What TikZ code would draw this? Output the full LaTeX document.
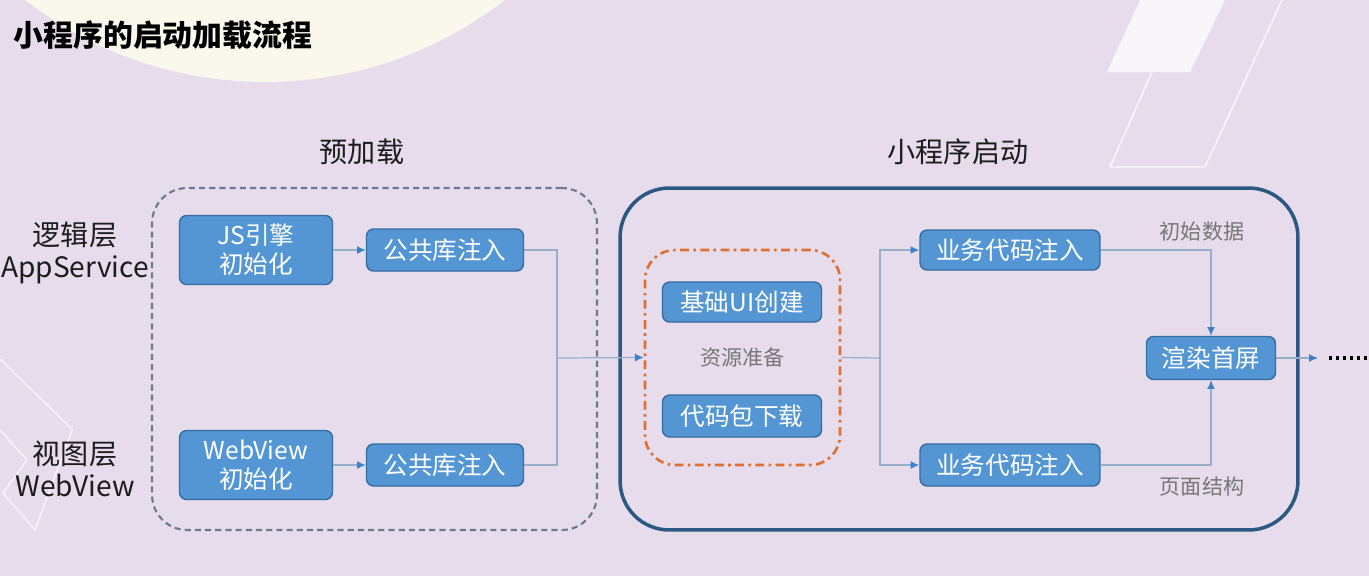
\documentclass[tikz,border=0pt]{standalone}
\usepackage{fontspec}
\setmainfont{Noto Sans CJK SC}
\usepackage{xcolor}
\usetikzlibrary{positioning, arrows.meta}

\definecolor{bgpurple}{RGB}{231,220,236}
\definecolor{cream}{RGB}{250,248,236}
\definecolor{boxblue}{RGB}{84,150,212}
\definecolor{boxline}{RGB}{52,108,160}
\definecolor{framedark}{RGB}{44,88,132}
\definecolor{dashgray}{RGB}{108,122,138}
\definecolor{dashorange}{RGB}{222,112,52}
\definecolor{linecol}{RGB}{150,176,204}
\definecolor{tipcol}{RGB}{60,130,200}
\definecolor{inkdark}{RGB}{28,28,28}
\definecolor{notegray}{RGB}{118,118,118}

\begin{document}
\begin{tikzpicture}[
    % one unit = one pixel of the 1369x576 picture
    x=0.02cm, y=-0.02cm,
    box/.style={
        rectangle, rounded corners=4pt, draw=boxline, fill=boxblue,
        line width=0.8pt, text=white, inner sep=0pt,
        align=center, font=\fontsize{14}{16.5}\selectfont
    },
    heading/.style={text=inkdark, font=\fontsize{16}{18}\selectfont, align=center},
    note/.style={text=notegray, font=\fontsize{12}{14}\selectfont},
    preload/.style={
        rectangle, rounded corners=20pt, draw=dashgray, line width=1.2pt,
        dash pattern=on 3.5pt off 2.3pt,
        minimum width=8.9cm, minimum height=6.84cm
    },
    launch/.style={
        rectangle, rounded corners=28pt, draw=framedark, line width=2pt,
        minimum width=13.56cm, minimum height=6.84cm
    },
    prepare/.style={
        rectangle, rounded corners=17pt, draw=dashorange, line width=1.5pt,
        dash pattern=on 5pt off 2.5pt on 1.5pt off 2.5pt,
        minimum width=3.9cm, minimum height=4.3cm,
        text=notegray, font=\fontsize{12}{14}\selectfont
    },
    flow/.style={draw=linecol, line width=0.7pt},
    arr/.style={flow, -{Latex[length=5pt, width=4.5pt, color=tipcol]}}
]

% 0. Background and decorations
\useasboundingbox (0,0) rectangle (1369,576);
\fill[bgpurple] (0,0) rectangle (1369,576);
\begin{scope}
    \clip (0,0) rectangle (1369,576);
    \fill[cream] (265,-310) circle [radius=7.84cm];
    \fill[white, opacity=0.75] (1140,0) -- (1225,0) -- (1190,72) -- (1107,72) -- cycle;
    \draw[white, opacity=0.8, line width=0.8pt] (1152,72) -- (1110,167) -- (1205,167) -- (1282,0);
    \draw[white, opacity=0.7, line width=0.8pt] (0,359) -- (73,430);
    \draw[white, opacity=0.7, line width=0.8pt] (0,430) -- (27,460) -- (3,493) -- (35,530) -- (72,430);
\end{scope}

% 1. Titles
\node[text=black, font=\fontsize{17}{19}\selectfont\bfseries] (title) at (163,35) {小程序的启动加载流程};
\node[heading] (pretitle) at (362,152) {预加载};
\node[heading] (launchtitle) at (958,152) {小程序启动};

% 2. Layer labels
\node[heading] (logic) at (75,253) {逻辑层\\AppService};
\node[heading] (view) at (75,469) {视图层\\WebView};

% 3. Frames
\node[preload] (pre) at (374.5,359) {};
\node[launch] (run) at (959,359) {};
\node[prepare] (res) at (742.5,357.5) {资源准备};

% 4. Preload steps
\node[box, minimum width=3.06cm, minimum height=1.38cm] (js) at (256,250) {JS引擎\\初始化};
\node[box, minimum width=3.14cm, minimum height=0.84cm] (lib1) at (445,250) {公共库注入};
\node[box, minimum width=3.06cm, minimum height=1.38cm] (web) at (256,465) {WebView\\初始化};
\node[box, minimum width=3.14cm, minimum height=0.84cm] (lib2) at (445,465) {公共库注入};

% 5. Launch steps
\node[box, minimum width=3.18cm, minimum height=0.8cm] (ui) at (742,302) {基础UI创建};
\node[box, minimum width=3.18cm, minimum height=0.84cm] (pkg) at (742,416) {代码包下载};
\node[box, minimum width=3.6cm, minimum height=0.8cm] (biz1) at (1010,250) {业务代码注入};
\node[box, minimum width=3.6cm, minimum height=0.84cm] (biz2) at (1010,465) {业务代码注入};
\node[box, minimum width=2.58cm, minimum height=0.86cm] (render) at (1211,358) {渲染首屏};

\node[note] (data) at (1202,231) {初始数据};
\node[note] (page) at (1202,486) {页面结构};

% 6. Connectors
\coordinate (merge) at (557,358);
\coordinate (split) at (880,358);
\coordinate (more) at (1318,358);
\coordinate (dots) at (1329,358);
\coordinate (dotsend) at (1369,358);

\draw[arr] (js.east) -- (lib1.west);
\draw[arr] (web.east) -- (lib2.west);
\draw[flow] (lib1.east) -| (merge);
\draw[flow] (lib2.east) -| (merge);
\draw[arr] (merge) -- (res.west);

\draw[flow] (res.east) -- (split);
\draw[arr] (split) |- (biz1.west);
\draw[arr] (split) |- (biz2.west);

\draw[arr] (biz1.east) -| (render.north);
\draw[arr] (biz2.east) -| (render.south);
\draw[arr] (render.east) -- (more);
\draw[black, line width=2pt, dash pattern=on 1.6pt off 2.4pt] (dots) -- (dotsend);

\end{tikzpicture}
\end{document}
